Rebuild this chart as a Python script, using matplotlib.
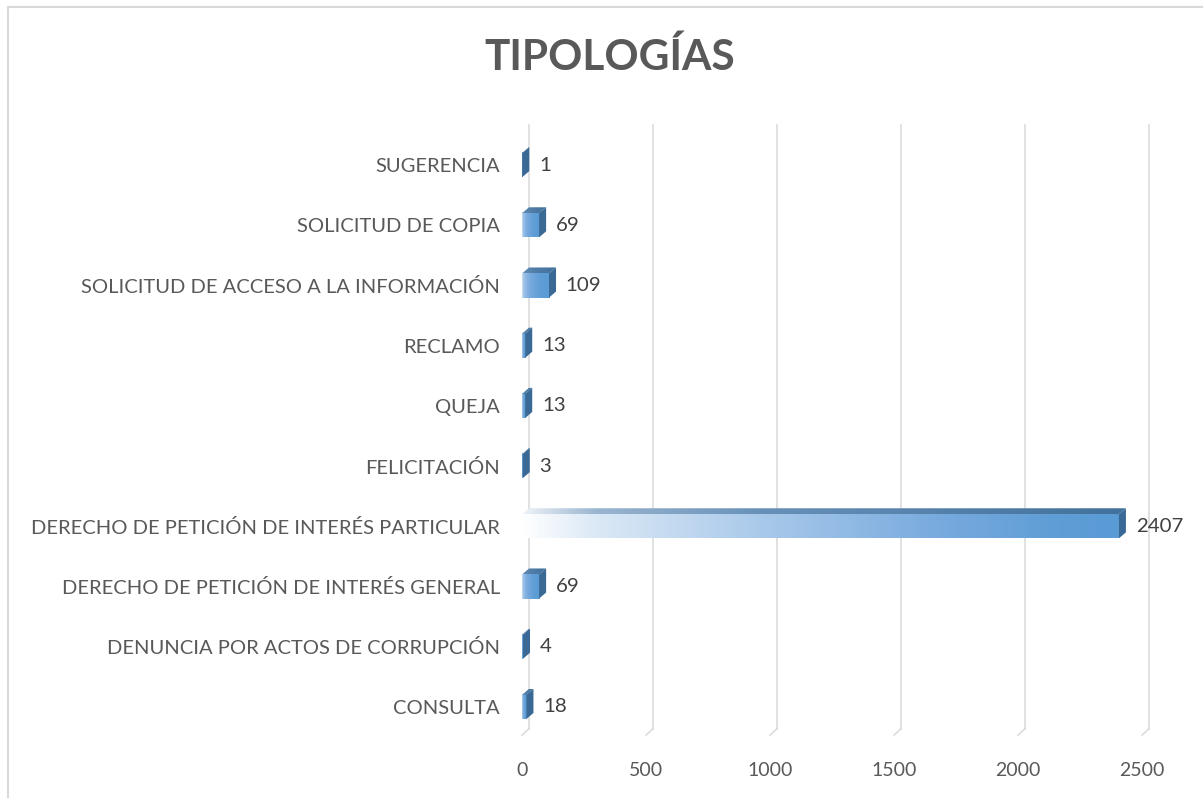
import matplotlib
matplotlib.use("Agg")
import matplotlib.pyplot as plt
import numpy as np
from matplotlib.colors import LinearSegmentedColormap
from matplotlib.patches import Polygon
from matplotlib.lines import Line2D

# ---- data ----
categories = [
    "CONSULTA",
    "DENUNCIA POR ACTOS DE CORRUPCIÓN",
    "DERECHO DE PETICIÓN DE INTERÉS GENERAL",
    "DERECHO DE PETICIÓN DE INTERÉS PARTICULAR",
    "FELICITACIÓN",
    "QUEJA",
    "RECLAMO",
    "SOLICITUD DE ACCESO A LA INFORMACIÓN",
    "SOLICITUD DE COPIA",
    "SUGERENCIA",
]
values = [18, 4, 69, 2407, 3, 13, 13, 109, 69, 1]
x_ticks = [0, 500, 1000, 1500, 2000, 2500]
title = "TIPOLOGÍAS"

# ---- style ----
FONT = "Lato"
TEXT_COL = "#595959"
VAL_COL = "#404040"
GRID_COL = "#d9d9d9"
W, H, DPI = 1203, 798, 100

fig = plt.figure(figsize=(W / DPI, H / DPI), dpi=DPI)
fig.patch.set_facecolor("white")

left_px, right_px = 522, 1142
top_px, bot_px = 135, 737
ax = fig.add_axes([left_px / W, 1 - bot_px / H,
                   (right_px - left_px) / W, (bot_px - top_px) / H])
ax.set_facecolor("none")

xmax = x_ticks[-1]
px_per_x = (right_px - left_px) / xmax
px_per_y = (bot_px - top_px) / len(categories)
depth_px_x, depth_px_y = 7, 6
dx = depth_px_x / px_per_x
dy = depth_px_y / px_per_y
bar_h = 0.40

front_cmap = LinearSegmentedColormap.from_list(
    "front", [(0.0, "#ffffff"), (0.12, "#dce9f6"), (0.4, "#a9c9ea"),
              (0.7, "#78aade"), (0.9, "#5e9dd6"), (1.0, "#5b9bd5")])
top_cmap = LinearSegmentedColormap.from_list(
    "top", [(0.0, "#eef3f8"), (0.12, "#9ab5d0"), (0.4, "#6790b8"),
            (1.0, "#41719c")])
side_col = "#3a6995"

t_lin = np.linspace(0, 1, 256)
ypos = np.arange(len(categories))
vmax = max(values)

# gridlines (back wall + floor slant)
ylo, yhi = -0.5, len(categories) - 0.5
grid_top = yhi + 10 / px_per_y
for t in x_ticks:
    ax.add_line(Line2D([t + dx, t + dx], [ylo + 0.14, grid_top], color=GRID_COL,
                       lw=1.1, zorder=0, clip_on=False))
    ax.add_line(Line2D([t + dx, t], [ylo + 0.14, ylo + 0.03], color=GRID_COL,
                       lw=1.1, zorder=0, clip_on=False))

for y, v in zip(ypos, values):
    y0, y1 = y - bar_h / 2, y + bar_h / 2
    gamma = float(np.clip(v / vmax, 0.3, 1.0))
    grad = (t_lin ** gamma).reshape(1, -1)
    # front face
    ax.imshow(grad, cmap=front_cmap, vmin=0, vmax=1, extent=(0, v, y0, y1),
              aspect="auto", origin="lower", zorder=3, interpolation="bilinear")
    # top face
    top_poly = Polygon([(0, y1), (v, y1), (v + dx, y1 + dy), (dx, y1 + dy)],
                       closed=True, facecolor="none", edgecolor="none")
    ax.add_patch(top_poly)
    im2 = ax.imshow(grad, cmap=top_cmap, vmin=0, vmax=1, extent=(0, v + dx, y1, y1 + dy),
                    aspect="auto", origin="lower", zorder=3, interpolation="bilinear")
    im2.set_clip_path(top_poly)
    # side face
    ax.add_patch(Polygon([(v, y0), (v + dx, y0 + dy), (v + dx, y1 + dy), (v, y1)],
                         closed=True, facecolor=side_col, edgecolor="none", zorder=4))
    # value label
    ax.annotate(f"{v}", xy=(v, y), xytext=(12, 0), textcoords="offset points",
                ha="left", va="center", fontsize=14.7, color=VAL_COL,
                family=FONT, zorder=5)

ax.set_xlim(0, xmax)
ax.set_ylim(ylo, yhi)
ax.set_xticks(x_ticks)
ax.set_xticklabels([str(t) for t in x_ticks], family=FONT, fontsize=14, color=TEXT_COL)
ax.set_yticks(ypos)
ax.set_yticklabels(categories, family=FONT, fontsize=14.5, color=TEXT_COL)
ax.tick_params(axis="both", length=0)
ax.tick_params(axis="x", pad=18)
ax.tick_params(axis="y", pad=16)
for s in ax.spines.values():
    s.set_visible(False)

# title
fig.text(610 / W, 1 - 57 / H, title, ha="center", va="center",
         fontsize=30.5, fontweight="bold", color=TEXT_COL, family=FONT)

# chart area border (left and top visible)
fig.add_artist(Line2D([8 / W, 8 / W], [0, 1 - 7 / H], transform=fig.transFigure,
                      color=GRID_COL, lw=1.5))
fig.add_artist(Line2D([8 / W, 1], [1 - 7 / H, 1 - 7 / H], transform=fig.transFigure,
                      color=GRID_COL, lw=1.5))

fig.savefig("out.png", dpi=DPI, facecolor="white")
